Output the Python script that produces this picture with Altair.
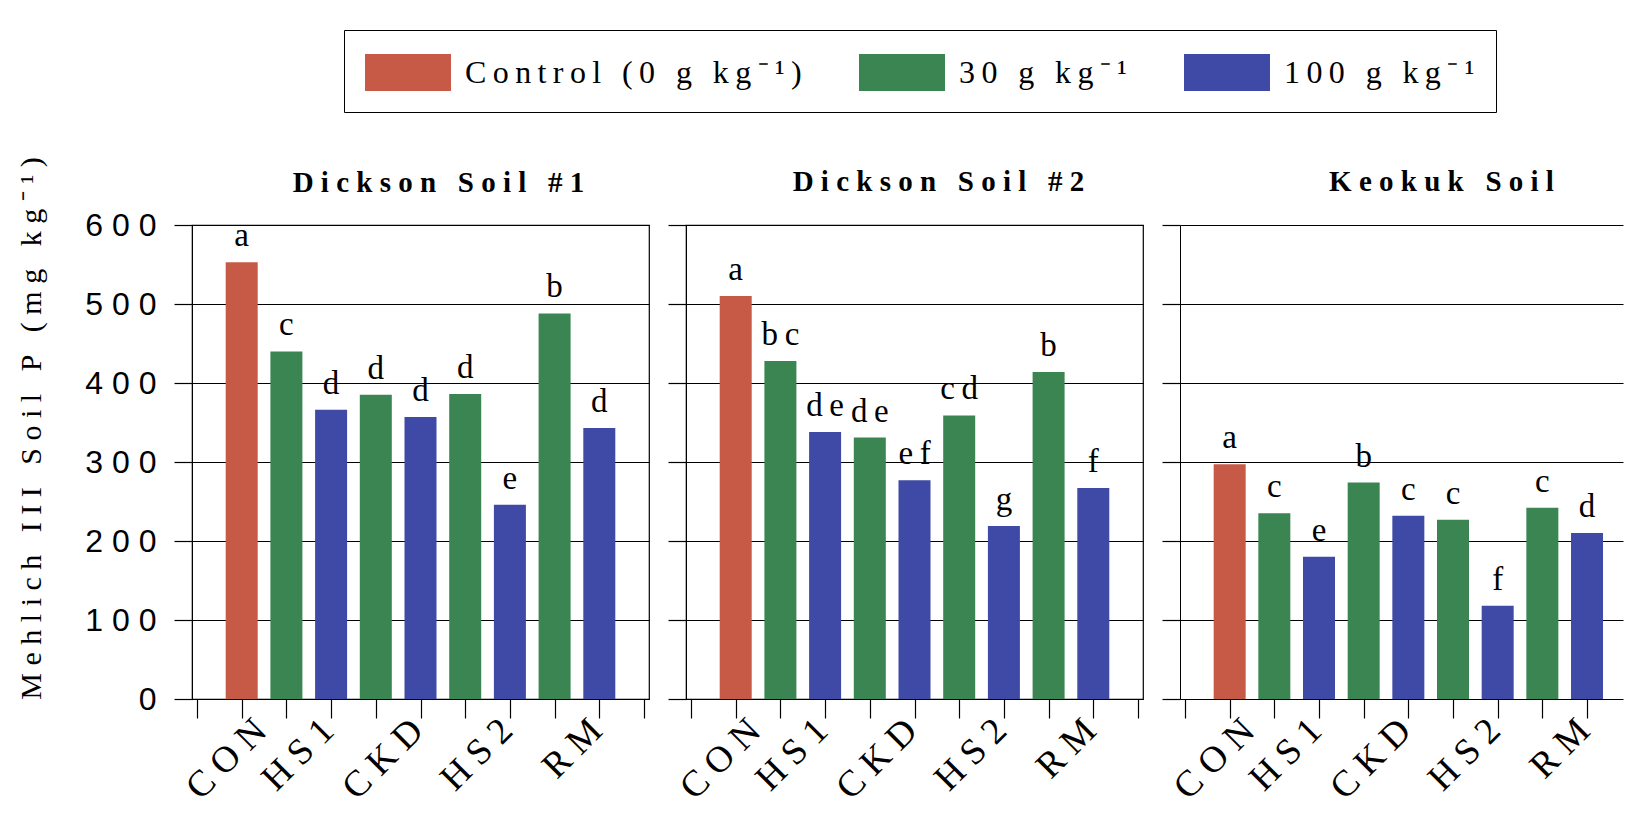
import altair as alt
import pandas as pd

# ---- data ----
soils = ["Dickson Soil #1", "Dickson Soil #2", "Keokuk Soil"]
treatments = ["CON", "HS1", "HS1", "CKD", "CKD", "HS2", "HS2", "RM", "RM"]
rate_names = ["Control (0 g kg⁻¹)", "30 g kg⁻¹", "100 g kg⁻¹"]
rates = [rate_names[0], rate_names[1], rate_names[2], rate_names[1], rate_names[2],
         rate_names[1], rate_names[2], rate_names[1], rate_names[2]]
positions = [1, 2, 3, 4, 5, 6, 7, 8, 9]
dickson1 = [553, 440, 366, 385, 357, 386, 246, 488, 343]
dickson2 = [510, 428, 338, 331, 277, 359, 219, 414, 267]
keokuk = [297, 235, 180, 274, 232, 227, 118, 242, 210]
letters1 = ["a", "c", "d", "d", "d", "d", "e", "b", "d"]
letters2 = ["a", "bc", "de", "de", "ef", "cd", "g", "b", "f"]
letters3 = ["a", "c", "e", "b", "c", "c", "f", "c", "d"]
tick_labels = ["CON", "HS1", "CKD", "HS2", "RM"]
tick_label_pos = [1, 2.5, 4.5, 6.5, 8.5]
y_ticks = [0, 100, 200, 300, 400, 500, 600]
colors = ["#c65a46", "#3b8552", "#3e4aa6"]

NB = "\u00a0"
TH = "\u2009"
SERIF = "Liberation Serif"
SANS = "Liberation Sans"


def spaced(s, sep=NB):
    return sep.join(list(s))


label_expr = ""
for lab, p in zip(tick_labels, tick_label_pos):
    label_expr += f"datum.value === {p} ? '{spaced(lab, NB)}' : "
label_expr += "''"

STEP = 45.7
H = 474
WIDTHS = [457, 457, 443]
TITLE_DX = [18, 24, 40]
TITLE_DY = [68, 0, 0]

legend = alt.Legend(
    orient="none", legendX=152, legendY=-195, direction="horizontal",
    title=None, symbolType="M-1,-0.86H3V0.86H-1Z", symbolSize=1849,
    symbolStrokeWidth=0, symbolOpacity=1,
    labelFont=SERIF, labelFontSize=32, labelColor="black", labelLimit=0,
    labelOffset=57, columnPadding=57, padding=21, strokeColor="black",
    labelExpr=f"join(split(datum.label, ''), '{TH}')",
)


def panel(i, values, letters):
    df = pd.DataFrame({
        "pos": positions, "treatment": treatments, "rate": rates,
        "value": values, "letter": letters,
    })
    width = WIDTHS[i]
    xmax = width / STEP
    tick_vals = sorted(set([v for v in range(0, 11) if v <= xmax] + tick_label_pos))
    x_axis = alt.Axis(
        values=tick_vals, labelExpr=label_expr, grid=False, domain=False,
        tickColor="black", tickSize=19, tickWidth=1.2,
        tickOpacity={"condition": {"test": "datum.value % 1 === 0", "value": 1}, "value": 0},
        labelAngle=315, labelAlign="right", labelBaseline="top", labelOffset=6,
        labelPadding=-6, labelFont=SERIF, labelFontSize=37, labelColor="black",
        labelOverlap=False, labelFlush=False, labelBound=False, title=None,
    )
    if i == 0:
        y_axis = alt.Axis(
            values=y_ticks, grid=True, gridColor="black", gridOpacity=1, gridWidth=1.2,
            domainColor="black", tickColor="black", tickSize=18, tickWidth=1.2,
            labelFont=SANS, labelFontSize=32, labelColor="black", labelPadding=18,
            labelExpr=f"join(split(datum.label, ''), '{NB}')",
            title=spaced("Mehlich III Soil P (mg kg⁻¹)"), titleFont=SERIF,
            titleFontSize=30, titleFontWeight="normal", titleColor="black",
            titleAngle=270, titleX=-152, titleY=203, titleBaseline="alphabetic",
        )
    else:
        y_axis = alt.Axis(
            values=y_ticks, grid=True, gridColor="black", gridOpacity=1, gridWidth=1.2,
            domainColor="black", tickColor="black", tickSize=18, tickWidth=1.2,
            labels=False, title=None,
        )
    x = alt.X("pos:Q", scale=alt.Scale(domain=[0, xmax], nice=False, zero=False), axis=x_axis)
    y = alt.Y("value:Q", scale=alt.Scale(domain=[0, 600], nice=False), axis=y_axis)
    base = alt.Chart(df)
    bars = base.mark_bar(orient="vertical", size=32).encode(
        x=x, y=y,
        color=alt.Color("rate:N", scale=alt.Scale(domain=rate_names, range=colors), legend=legend),
    )
    text = base.transform_calculate(
        lab=f"join(split(datum.letter, ''), '{TH}')"
    ).mark_text(baseline="bottom", dy=-9, font=SERIF, fontSize=33, color="black").encode(
        x=x, y=y, text="lab:N"
    )
    return alt.layer(bars, text).properties(
        width=width, height=H,
        title=alt.TitleParams(text=spaced(soils[i]), font=SERIF, fontSize=29,
                              fontWeight="bold", color="black", offset=27,
                              anchor="middle", frame="group",
                              dx=TITLE_DX[i], dy=TITLE_DY[i]),
        view=alt.ViewBackground(stroke="black" if i < 2 else "transparent", strokeWidth=1.2),
    )


chart = alt.hconcat(
    panel(0, dickson1, letters1),
    panel(1, dickson2, letters2),
    panel(2, keokuk, letters3),
    spacing=37,
    bounds="flush",
).properties(
    padding={"left": 15, "top": 29, "right": 0, "bottom": 0},
    background="white",
).configure_view(stroke="black")

chart.save("out.html", embed_options={"renderer": "svg", "actions": False})
